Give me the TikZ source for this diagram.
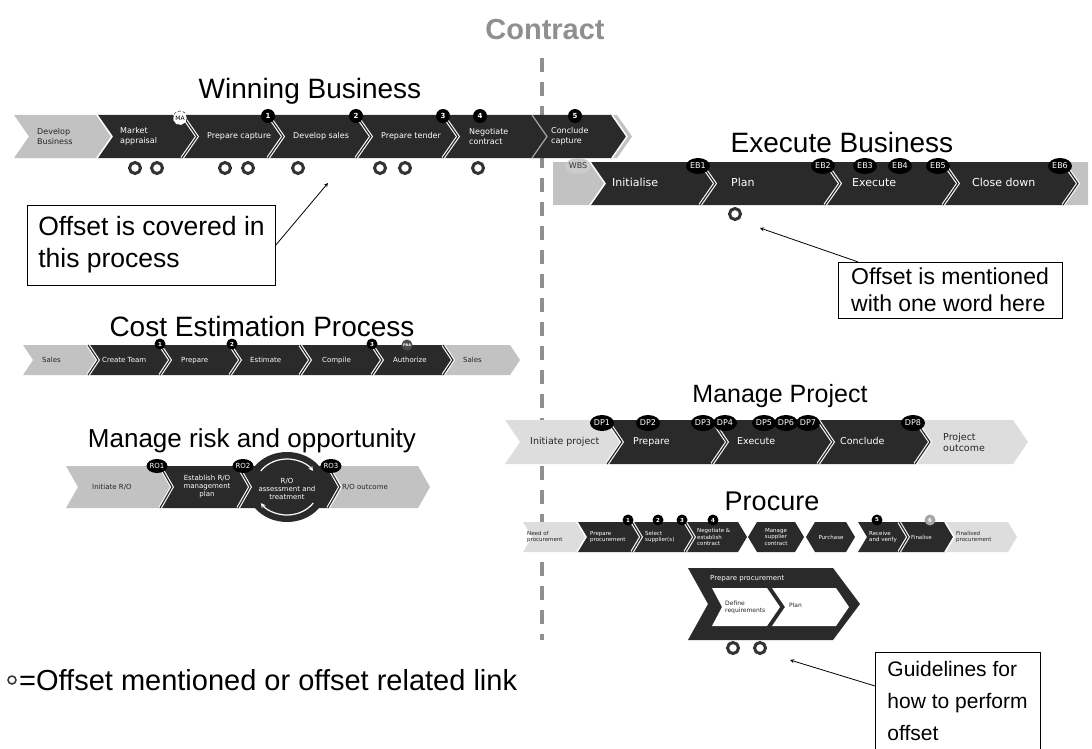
\documentclass[tikz,border=0pt]{standalone}
\usepackage{fontspec}
\setmainfont{Liberation Sans}
\newfontfamily\chevfont{DejaVu Sans}
\usetikzlibrary{arrows,calc,positioning,shapes}

\definecolor{chevdark}{HTML}{2A2A2A}
\definecolor{chevgray}{HTML}{C2C2C2}
\definecolor{chevlight}{HTML}{DDDDDD}
\definecolor{contractgray}{HTML}{8F8F8F}
\definecolor{ringgray}{HTML}{333333}

\newcommand{\cf}[2]{\chevfont\fontsize{#1}{#2}\selectfont}
% chevron: x1, x2, top, bottom, depth, colour
\newcommand{\chev}[6]{%
	\fill[#6] (#1,#3) -- (#2,#3) -- (#2+#5,{(#3+#4)/2}) -- (#2,#4) -- (#1,#4) -- (#1+#5,{(#3+#4)/2}) -- cycle;}
% hexagon: x1, x2, top, bottom, depth, colour
\newcommand{\hexa}[6]{%
	\fill[#6] (#1,#3) -- (#2,#3) -- (#2+#5,{(#3+#4)/2}) -- (#2,#4) -- (#1,#4) -- (#1-#5,{(#3+#4)/2}) -- cycle;}
% separator: style, x, top, bottom, depth
\newcommand{\sepline}[5]{%
	\draw[#1] (#2,#3) -- (#2+#5,{(#3+#4)/2}) -- (#2,#4);}

\tikzset{%
	proctitle/.style  = {anchor=base, inner sep=0pt},
	textbox/.style    = {draw, rectangle, align=left, inner xsep=11pt, inner ysep=3pt},
	steptext/.style   = {text=white, anchor=west, align=left, inner sep=0pt},
	darktext/.style   = {text=black!85, anchor=west, align=left, inner sep=0pt},
	oneline/.style    = {text height=0.75em, text depth=0.22em},
	milestone/.style  = {circle, fill=black, text=white, inner sep=0pt, minimum size=14pt, font=\cf{7}{8}\bfseries},
	gate/.style       = {ellipse, fill=black, text=white, inner sep=0pt, minimum width=24pt, minimum height=16pt, font=\cf{8}{9}},
	offsetmark/.style = {circle, draw=ringgray, line width=3pt, minimum size=11pt, inner sep=0pt},
	dsep/.style       = {draw=white, double=chevdark, double distance=1.2pt, line width=1.1pt},
	wsep/.style       = {draw=white, line width=1.5pt},
	plainsep/.style   = {draw=gray!70, line width=1.2pt},
	notearrow/.style  = {->, >=stealth, line width=0.8pt},
}

\begin{document}
\begin{tikzpicture}[x=1pt,y=-1pt]
	\useasboundingbox (0,0) rectangle (1092,749);

	% contract border
	\node[proctitle, font=\fontsize{29}{32}\selectfont\bfseries, text=contractgray] (contract) at (545,40) {Contract};
	\coordinate (ctop) at (542,58);
	\coordinate (cbot) at (542,640);
	\draw[contractgray, line width=4pt, dash pattern=on 14pt off 10pt] (ctop) -- (cbot);

	% Winning Business
	\node[proctitle, font=\fontsize{28}{32}\selectfont] (wbtitle) at (310,99) {Winning Business};
	\chev{14}{97}{115}{158}{15}{chevgray}
	\chev{97}{612}{115}{158}{15}{chevdark}
	\chev{612}{617}{115}{158}{15}{chevgray}
	\sepline{wsep}{97}{115}{158}{15}
	\sepline{wsep}{612}{115}{158}{15}
	\foreach \x in {182,268,356,443} {\sepline{dsep}{\x}{115}{158}{15}}
	\sepline{plainsep}{532}{115}{158}{15}
	\begin{scope}[font=\cf{8}{9.5}]
		\node[darktext] (wbs1) at (37,136.5) {Develop\\Business};
		\node[steptext] (wbs2) at (120,136.5) {Market\\appraisal};
		\node[steptext] (wbs3) at (207,136.5) {Prepare capture};
		\node[steptext] (wbs4) at (293,136.5) {Develop sales};
		\node[steptext] (wbs5) at (381,136.5) {Prepare tender};
		\node[steptext] (wbs6) at (469,136.5) {Negotiate\\contract};
		\node[steptext] (wbs7) at (551,136.5) {Conclude\\capture};
	\end{scope}
	\node[milestone, fill=white, draw, densely dashed, text=black, font=\cf{6}{7}] (wbma) at (180,118) {MA};
	\foreach \x/\t in {268/1,356/2,443/3,480/4,575/5} \node[milestone] (wbm\t) at (\x,116) {\t};
	\foreach \x [count=\i] in {135,157,225,248,298,380,405,478} \node[offsetmark] (wbo\i) at (\x,168) {};

	\node[textbox, font=\fontsize{26.5}{32}\selectfont, minimum width=247pt, minimum height=80pt] (covbox) at (151.5,245) {Offset is covered in\\this process};
	\coordinate (wbpt) at (328,183);
	\draw[notearrow] (covbox.east) -- (wbpt);

	% Execute Business
	\node[proctitle, font=\fontsize{28}{32}\selectfont] (ebtitle) at (842,153) {Execute Business};
	\fill[chevgray] (553,162) -- (590,162) -- (605,183.5) -- (590,205) -- (553,205) -- cycle;
	\chev{590}{1063}{162}{205}{15}{chevdark}
	\fill[chevgray] (1063,162) -- (1088,162) -- (1088,205) -- (1063,205) -- (1078,183.5) -- cycle;
	\sepline{wsep}{590}{162}{205}{15}
	\foreach \x in {700,825,943,1063} {\sepline{dsep}{\x}{162}{205}{15}}
	\begin{scope}[font=\cf{11}{13}]
		\node[steptext, oneline] (ebs1) at (612,183.5) {Initialise};
		\node[steptext, oneline] (ebs2) at (731,183.5) {Plan};
		\node[steptext, oneline] (ebs3) at (852,183.5) {Execute};
		\node[steptext, oneline] (ebs4) at (972,183.5) {Close down};
	\end{scope}
	\node[gate, fill=chevgray!85, text=black!80] (wbs) at (578,166) {WBS};
	\foreach \x/\t in {698/1,823/2,865/3,900/4,938/5,1060/6} \node[gate] (eb\t) at (\x,166) {EB\t};
	\node[offsetmark] (ebo1) at (735,214) {};

	\node[textbox, font=\fontsize{23}{27}\selectfont, minimum width=224pt, minimum height=56pt] (menbox) at (950,290) {Offset is mentioned\\with one word here};
	\coordinate (ebpt) at (760,228);
	\draw[notearrow] (menbox.163) -- (ebpt);

	% Cost Estimation Process
	\node[proctitle, font=\fontsize{28}{32}\selectfont] (cetitle) at (262,336) {Cost Estimation Process};
	\chev{23}{88}{345}{375}{10}{chevgray}
	\chev{88}{443}{345}{375}{10}{chevdark}
	\chev{443}{510}{345}{375}{10}{chevgray}
	\foreach \x in {88,160,230,300,372,443} {\sepline{dsep}{\x}{345}{375}{10}}
	\begin{scope}[font=\cf{7}{8}, oneline]
		\node[darktext] (ces1) at (42,360) {Sales};
		\node[steptext] (ces2) at (102,360) {Create Team};
		\node[steptext] (ces3) at (181,360) {Prepare};
		\node[steptext] (ces4) at (250,360) {Estimate};
		\node[steptext] (ces5) at (322,360) {Compile};
		\node[steptext] (ces6) at (393,360) {Authorize};
		\node[darktext] (ces7) at (463,360) {Sales};
	\end{scope}
	\foreach \x/\t in {160/1,232/2,372/3} \node[milestone, minimum size=11pt, font=\cf{5.5}{6}\bfseries] (cem\t) at (\x,344) {\t};
	\node[milestone, fill=black!70, minimum size=11pt, font=\cf{3.5}{4}\bfseries] (cepba) at (407,345) {PBA};

	% Manage risk and opportunity
	\node[proctitle, font=\fontsize{26}{30}\selectfont] (rotitle) at (252,447) {Manage risk and opportunity};
	\chev{66}{160}{466}{508}{12}{chevgray}
	\chev{160}{328}{466}{508}{12}{chevdark}
	\chev{328}{418}{466}{508}{12}{chevgray}
	\fill[chevdark] (287,487) ellipse [x radius=40, y radius=35];
	\draw[white, line width=1.2pt, ->, >=stealth] (287,487) ++(215:32 and 28) arc [start angle=215, end angle=325, x radius=32, y radius=28];
	\draw[white, line width=1.2pt, ->, >=stealth] (287,487) ++(35:32 and 28) arc [start angle=35, end angle=145, x radius=32, y radius=28];
	\foreach \x in {160,238,328} {\sepline{dsep}{\x}{466}{508}{12}}
	\begin{scope}[font=\cf{7}{8}]
		\node[darktext] (ros1) at (92,487) {Initiate R/O};
		\node[steptext, anchor=center, align=center] (ros2) at (207,487) {Establish R/O\\management\\plan};
		\node[steptext, anchor=center, align=center] (ros3) at (287,489) {R/O\\assessment and\\treatment};
		\node[darktext] (ros4) at (342,487) {R/O outcome};
	\end{scope}
	\foreach \x/\t in {157/1,243/2,331/3} \node[gate, minimum width=20pt, minimum height=14pt, font=\cf{7}{8}] (ro\t) at (\x,466) {RO\t};

	% Manage Project
	\node[proctitle, font=\fontsize{25}{30}\selectfont] (dptitle) at (780,402) {Manage Project};
	\chev{505}{607}{420}{464}{15}{chevlight}
	\chev{607}{915}{420}{464}{15}{chevdark}
	\chev{915}{1013}{420}{464}{15}{chevlight}
	\foreach \x in {607,712,818,915} {\sepline{dsep}{\x}{420}{464}{15}}
	\begin{scope}[font=\cf{9.5}{11}]
		\node[darktext, oneline] (dps1) at (530,442) {Initiate project};
		\node[steptext, oneline] (dps2) at (633,442) {Prepare};
		\node[steptext, oneline] (dps3) at (737,442) {Execute};
		\node[steptext, oneline] (dps4) at (840,442) {Conclude};
		\node[darktext] (dps5) at (943,442) {Project\\outcome};
	\end{scope}
	\foreach \x [count=\i] in {602,648,703,725,764,786,808,913} \node[gate] (dp\i) at (\x,423) {DP\i};

	% Procure
	\node[proctitle, font=\fontsize{27}{30}\selectfont] (prtitle) at (772,510) {Procure};
	\chev{523}{577}{522}{552}{9}{chevlight}
	\chev{577}{632}{522}{552}{9}{chevdark}
	\chev{632}{685}{522}{552}{9}{chevdark}
	\chev{685}{738}{522}{552}{9}{chevdark}
	\hexa{757}{795}{522}{552}{9}{chevdark}
	\hexa{815}{846}{522}{552}{9}{chevdark}
	\chev{858}{899}{522}{552}{9}{chevdark}
	\chev{899}{945}{522}{552}{9}{chevdark}
	\chev{945}{1008}{522}{552}{9}{chevlight}
	\sepline{wsep}{577}{522}{552}{9}
	\sepline{wsep}{945}{522}{552}{9}
	\foreach \x in {632,685,899} {\sepline{dsep}{\x}{522}{552}{9}}
	\begin{scope}[font=\cf{5.5}{6.3}]
		\node[darktext] (prs1) at (527,537) {Need of\\procurement};
		\node[steptext] (prs2) at (590,537) {Prepare\\procurement};
		\node[steptext] (prs3) at (645,537) {Select\\supplier(s)};
		\node[steptext] (prs4) at (697,537) {Negotiate \&\\establish\\contract};
		\node[steptext, anchor=center, align=center] (prs5) at (776,537) {Manage\\supplier\\contract};
		\node[steptext, anchor=center, oneline] (prs6) at (831,537) {Purchase};
		\node[steptext] (prs7) at (869,537) {Receive\\and verify};
		\node[steptext, oneline] (prs8) at (911,537) {Finalise};
		\node[darktext] (prs9) at (956,537) {Finalised\\procurement};
	\end{scope}
	\foreach \x/\t in {628/1,658/2,682/3,713/4,877/5} \node[milestone, minimum size=11pt, font=\cf{5.5}{6}\bfseries] (prm\t) at (\x,520) {\t};
	\node[milestone, fill=black!35, minimum size=11pt, font=\cf{5.5}{6}\bfseries] (prm6) at (930,520) {6};

	% Prepare procurement detail
	\fill[chevdark] (688,568) -- (833,568) -- (860,604) -- (833,640) -- (688,640) -- (708,604) -- cycle;
	\fill[white] (712,588) -- (767,588) -- (780,607) -- (767,626) -- (712,626) -- (722,607) -- cycle;
	\fill[white] (772,588) -- (836,588) -- (849,607) -- (836,626) -- (772,626) -- (785,607) -- cycle;
	\node[steptext, font=\cf{7}{8}] (pptitle) at (710,579) {Prepare procurement};
	\node[darktext, font=\cf{6}{7}] (ppdef) at (725,607) {Define\\requirements};
	\node[darktext, font=\cf{6}{7}, oneline] (ppplan) at (789,605) {Plan};
	\foreach \x [count=\i] in {733,760} \node[offsetmark] (ppo\i) at (\x,648) {};

	\node[textbox, font=\fontsize{21}{32}\selectfont, minimum width=165pt, minimum height=97pt] (guidebox) at (957.5,700.5) {Guidelines for\\how to perform\\offset};
	\coordinate (prpt) at (790,660);
	\draw[notearrow] (guidebox.170) -- (prpt);

	% legend
	\node[offsetmark, line width=1.5pt, minimum size=8pt] (legmark) at (12,680) {};
	\node[anchor=base west, inner sep=0pt, font=\fontsize{29}{32}\selectfont] (legtext) at (19,690) {=Offset mentioned or offset related link};
\end{tikzpicture}
\end{document}
